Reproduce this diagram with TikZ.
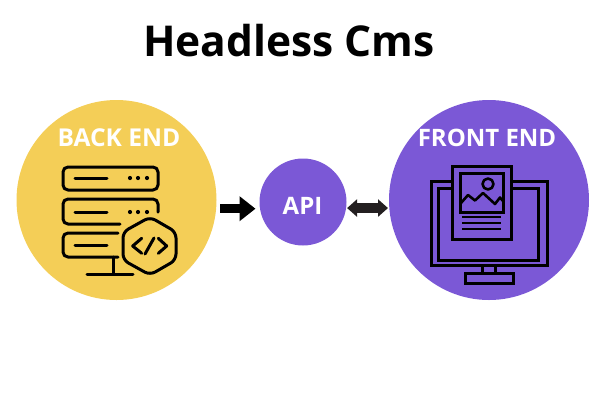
\documentclass[tikz,border=0pt]{standalone}
\usepackage{fontspec}
\setmainfont{Open Sans}
\usetikzlibrary{arrows.meta}
\definecolor{myYellow}{HTML}{F4CE57}
\definecolor{myPurple}{HTML}{7B58D6}
\definecolor{myDark}{HTML}{231F20}
\tikzset{
	bigcircle/.style={circle, draw=none, inner sep=0pt, outer sep=0pt, minimum size=200pt},
	midcircle/.style={bigcircle, minimum size=87pt},
	whitelabel/.style={text=white, font=\bfseries\fontsize{#1}{#1}\selectfont, inner sep=0pt},
	iconline/.style={draw=black, line width=3pt, line join=round, line cap=round},
	boxline/.style={iconline, line cap=butt, line join=miter},
	oneway/.style={line width=8.5pt, -{Triangle[length=16pt, width=24pt]}, shorten <=4pt, shorten >=4pt},
	twoway/.style={draw=myDark, line width=9.5pt, {Triangle[length=10pt, width=17pt]}-{Triangle[length=10pt, width=17pt]}, shorten <=1pt, shorten >=1pt}
}
% three dots and a bar of one server row
\newcommand{\myRowMarks}[1]{
\draw[iconline] (75,#1) -- (107,#1);
\foreach \x in {130,138,147}
	\fill (\x,#1) circle (2.1pt);
}
\begin{document}
\begin{tikzpicture}[x=1pt, y=-1pt]
	\useasboundingbox (0,0) rectangle (600,400);

	\node[bigcircle, fill=myYellow] (backend) at (116.5,200) {};
	\node[bigcircle, fill=myPurple] (frontend) at (489,200) {};
	\node[midcircle, fill=myPurple] (api) at (303,202) {};

	\node[font=\bfseries\fontsize{42.5}{42.5}\selectfont, inner sep=0pt] (title) at (289,41) {Headless Cms};
	\node[whitelabel=24.6] (backlabel) at (119,138) {BACK END};
	\node[whitelabel=24] (frontlabel) at (487,138) {FRONT END};
	\node[whitelabel=24] (apilabel) at (302.5,206) {API};

	\draw[oneway] (backend.-5) -- (backend.-5 -| api.west);
	\draw[twoway] (api.-8) -- (api.-8 -| frontend.west);

	% server
	\draw[iconline, rounded corners=5pt] (63,167) rectangle (158,190);
	\draw[iconline, rounded corners=5pt] (120,224) -- (63,224) -- (63,199) -- (158,199) -- (158,212);
	\draw[iconline, rounded corners=5pt] (118,233) -- (63,233) -- (63,257) -- (118,257);
	\myRowMarks{178}
	\myRowMarks{212}
	\draw[iconline] (75,245) -- (107,245);
	\draw[iconline] (113,257) -- (113,274);
	\draw[iconline] (87,274) -- (133,274);
	\draw[iconline, fill=myYellow, rounded corners=6pt] (150,217) -- (176,232) -- (176,260) -- (150,275) -- (123,260) -- (123,232) -- cycle;
	\draw[iconline] (141.7,238.3) -- (132.7,246) -- (141.7,253.3);
	\draw[iconline] (158.3,238.3) -- (166.7,246) -- (158.3,253.3);
	\draw[iconline] (145,254) -- (154,238);

	% monitor and page
	\draw[boxline] (431.5,181) rectangle (547,265);
	\draw[boxline] (438.5,188) rectangle (538.5,260);
	\draw[boxline] (482,265) -- (482,273);
	\draw[boxline] (495,265) -- (495,273);
	\draw[boxline] (465,273) rectangle (513,283);
	\draw[boxline, fill=myPurple] (452,166) rectangle (511,239);
	\draw[boxline] (460,173) rectangle (503,212);
	\draw[iconline, line width=2.6pt] (488,184) circle (5.5pt);
	\draw[iconline, line width=2.6pt] (461,203) -- (468,195) -- (475,200.5) -- (483,193) -- (495,204) -- (500,197.5) -- (503,201);
	\foreach \y in {217,223,229}
		\draw[boxline, line width=2.6pt] (462,\y) -- (501,\y);
\end{tikzpicture}
\end{document}
